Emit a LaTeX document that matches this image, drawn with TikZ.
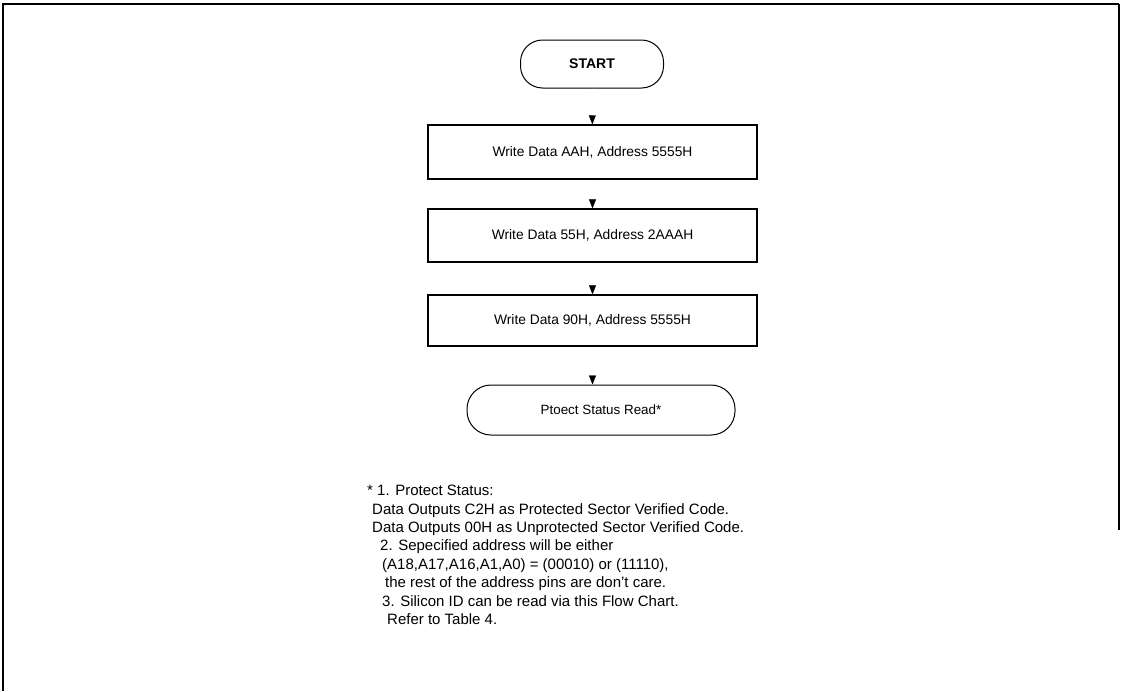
\documentclass[tikz,border=0pt]{standalone}
\usepackage{fontspec}
\setmainfont{Liberation Sans}
\usetikzlibrary{arrows.meta}

\tikzset{
  stepbox/.style={draw,line width=1.3pt,minimum width=329pt,inner sep=0pt,font=\fontsize{13.8}{15}\selectfont},
  termbox/.style={draw,line width=1pt,rounded corners=22pt,inner sep=0pt,font=\fontsize{13.4}{15}\selectfont},
  flowtip/.style={draw=white,line width=0.4pt,-{Triangle[length=9pt,width=7pt,color=black]}}
}

\begin{document}
\begin{tikzpicture}[x=1pt,y=-1pt]
\useasboundingbox (0,0) rectangle (1124,691);
% frame of the scanned page
\draw[line width=1.6pt] (2,4) -- (1119,4);
\draw[line width=1.6pt] (3,4) -- (3,691);
\draw[line width=1.6pt] (1119,4) -- (1119,530);

% flow
\node[termbox,minimum width=143pt,minimum height=48pt,font=\fontsize{14}{15}\selectfont\bfseries] (start) at (592,64) {START};
\node[stepbox,minimum height=54pt] (wd1) at (592.5,152) {Write Data AAH, Address 5555H};
\node[stepbox,minimum height=53pt] (wd2) at (592.5,235.5) {Write Data 55H, Address 2AAAH};
\node[stepbox,minimum height=51pt] (wd3) at (592.5,320.5) {Write Data 90H, Address 5555H};
\node[termbox,minimum width=268pt,minimum height=50pt,rounded corners=24pt] (read) at (601,410) {Ptoect Status Read*};

\draw[flowtip] (start) -- (wd1);
\draw[flowtip] (wd1) -- (wd2);
\draw[flowtip] (wd2) -- (wd3);
\draw[flowtip] (wd3.south) -- (read.north -| wd3.south);

% notes
\node[anchor=north west,align=left,inner sep=0pt,font=\fontsize{15}{18.4}\selectfont] (notes) at (367,485)
{* 1. Protect Status:\\
\hspace*{5pt}Data Outputs C2H as Protected Sector Verified Code.\\
\hspace*{5pt}Data Outputs 00H as Unprotected Sector Verified Code.\\
\hspace*{13pt}2. Sepecified address will be either\\
\hspace*{15pt}(A18,A17,A16,A1,A0) = (00010) or (11110),\\
\hspace*{18pt}the rest of the address pins are don't care.\\
\hspace*{15pt}3. Silicon ID can be read via this Flow Chart.\\
\hspace*{20pt}Refer to Table 4.};
\end{tikzpicture}
\end{document}
